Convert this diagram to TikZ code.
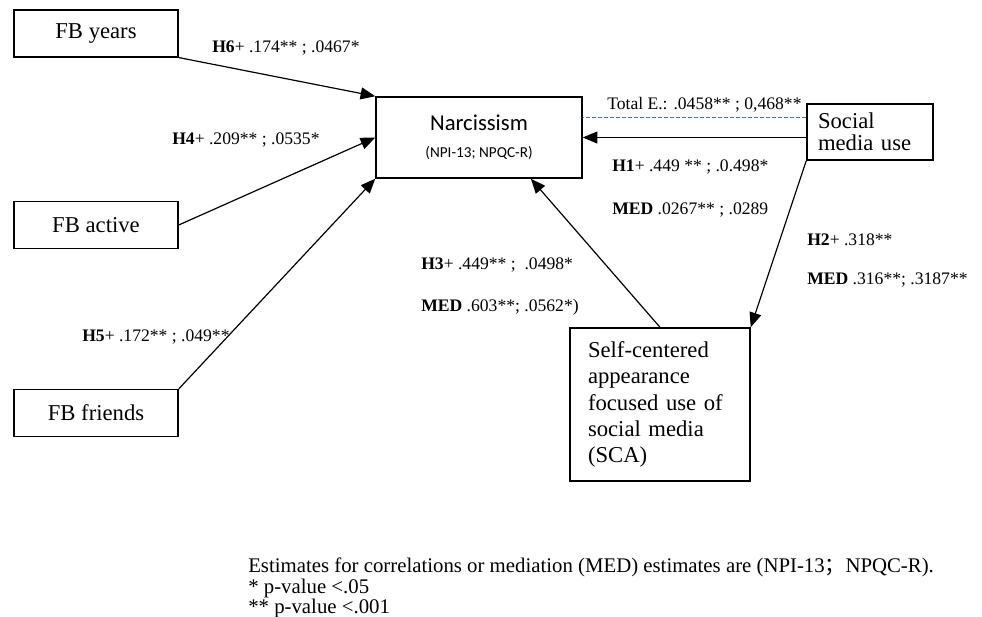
\documentclass[tikz,border=0pt]{standalone}
\usepackage{fontspec}
\setmainfont{Liberation Serif}
\newfontfamily\calibrifont{Carlito}
\newfontfamily\cjk{Noto Sans CJK SC}
\usepackage{tikz}
\usetikzlibrary{arrows.meta,calc}
\definecolor{totalblue}{RGB}{68,114,196}

\begin{document}
\begin{tikzpicture}[x=0.75pt,y=-0.75pt]
		\useasboundingbox (0,0) rectangle (982,617);

		\begin{scope}[every node/.style={draw,line width=1.1pt,inner sep=0pt,
		              font=\fontsize{17}{19.7}\selectfont}]
		    \node[minimum width=123pt,minimum height=35pt] (years) at (96,33.5) {FB years};
		    \node[minimum width=123pt,minimum height=35pt] (active) at (96,225) {FB active};
		    \node[minimum width=123pt,minimum height=35pt] (friends) at (96,413) {FB friends};
		    \node[minimum width=154.5pt,minimum height=60.75pt,align=center,
		          font=\calibrifont\fontsize{11.4}{20}\selectfont] (narc) at (479,137.5)
		          {{\fontsize{17}{20}\selectfont Narcissism}\\(NPI-13; NPQC-R)};
		    \node[minimum width=94.5pt,minimum height=42pt,text width=78pt,
		          inner xsep=8.25pt,align=left,font=\fontsize{17}{16.5}\selectfont] (social) at (870,132)
		          {Social\\media use};
		    \node[minimum width=135pt,minimum height=114.75pt,text width=108pt,
		          inner xsep=13.5pt,align=left] (sca) at (660,404.5)
		          {Self-centered\\appearance\\focused use of\\social media\\(SCA)};
		\end{scope}

		\begin{scope}[>={Triangle[length=11pt,width=9pt]},
		              every path/.style={line width=0.9pt}]
		    \draw[->] (years.south east) -- (narc.north west);
		    \draw[->] (active.east) -- (narc.west);
		    \draw[->] (friends.north east) -- (narc.south west);
		    \draw[->] (social.west |- narc.east) -- (narc.east);
		    \draw[->] (social.south west) -- (sca.north east);
		    \draw[->] (sca.north) -- ($(narc.south west)!0.75!(narc.south east)$);
		    \coordinate (dashend) at ($(narc.north east)!0.26!(narc.south east)$);
		    \draw[totalblue,line width=0.8pt,dash pattern=on 3pt off 1.5pt]
		        (social.west |- dashend) -- (dashend);
		\end{scope}

		\begin{scope}[every node/.style={anchor=west,inner sep=0pt,
		              font=\fontsize{13.2}{15}\selectfont}]
		    \node (h6) at (212,48) {\textbf{H6}+ .174** ; .0467*};
		    \node (h4) at (172,140) {\textbf{H4}+ .209** ; .0535*};
		    \node (h5) at (82,337) {\textbf{H5}+ .172** ; .049**};
		    \node (total) at (607,105) {Total E.: .0458** ; 0,468**};
		    \node (h1) at (612,167) {\textbf{H1}+ .449 ** ; .0.498*};
		    \node (med1) at (612,210) {\textbf{MED} .0267** ; .0289};
		    \node (h2) at (807,240) {\textbf{H2}+ .318**};
		    \node (med2) at (807,280) {\textbf{MED} .316**; .3187**};
		    \node (h3) at (421,265) {\textbf{H3}+ .449** ;\ \ .0498*};
		    \node (med3) at (421,307) {\textbf{MED} .603**; .0562*)};
		\end{scope}

		\begin{scope}[every node/.style={anchor=west,inner sep=0pt,
		              font=\fontsize{15.6}{17}\selectfont}]
		    \node (note) at (248,567) {Estimates for correlations or mediation (MED) estimates are (NPI-13{\cjk ；}NPQC-R).};
		    \node (star) at (248,588) {* p-value <.05};
		    \node (stars) at (248,608) {** p-value <.001};
		\end{scope}
\end{tikzpicture}
\end{document}
